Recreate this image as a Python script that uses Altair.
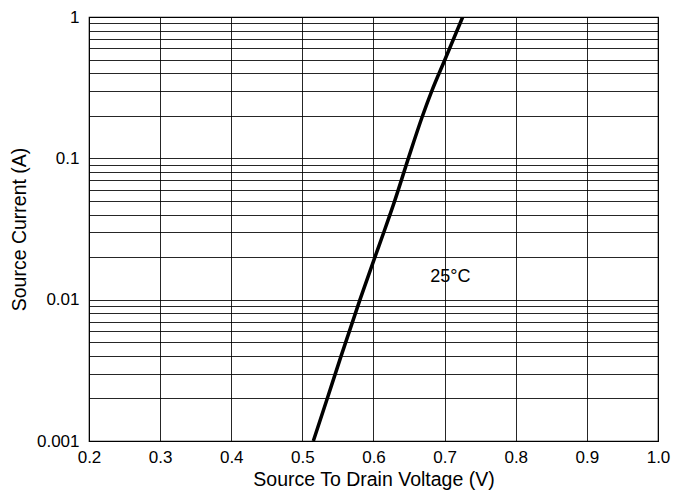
import altair as alt
import pandas as pd

# curve
voltage = [0.5154, 0.5350, 0.5545, 0.5810, 0.6020, 0.6145, 0.6298, 0.6490, 0.6690, 0.6820, 0.7005, 0.7254]
current = [0.001, 0.002, 0.004, 0.01, 0.02, 0.03, 0.05, 0.1, 0.2, 0.3, 0.5, 1.0]

x_ticks = [0.2, 0.3, 0.4, 0.5, 0.6, 0.7, 0.8, 0.9, 1.0]
y_grid = [m * d for d in [0.001, 0.01, 0.1] for m in range(1, 10)] + [1.0]

label_text = ["25°C"]
label_x = [0.708]
label_y = [0.0145]

df = pd.DataFrame({"v": voltage, "i": current})
lab = pd.DataFrame({"v": label_x, "i": label_y, "t": label_text})

FONT = "Liberation Sans"
xscale = alt.Scale(domain=[0.2, 1.0], nice=False, zero=False)
yscale = alt.Scale(type="log", domain=[0.001, 1], nice=False)

line = alt.Chart(df).mark_line(color="black", strokeWidth=3.5, interpolate="monotone", clip=True).encode(
    x=alt.X("v:Q", scale=xscale, title="Source To Drain Voltage (V)",
            axis=alt.Axis(values=x_ticks, format=".1f", grid=True, ticks=False,
                          domain=False, labelPadding=8, titlePadding=5,
                          labelFlush=False,
                          labelFontSize=17, titleFontSize=19.5,
                          labelFont=FONT, titleFont=FONT,
                          labelColor="black", titleColor="black",
                          titleFontWeight="normal",
                          gridColor="black", gridOpacity=0.85, gridWidth=1)),
    y=alt.Y("i:Q", scale=yscale, title="Source Current (A)",
            axis=alt.Axis(values=y_grid, grid=True, ticks=False, domain=False,
                          labelExpr="abs(log(datum.value)/LN10 - round(log(datum.value)/LN10)) < 1e-6 ? format(datum.value, '~g') : ''",
                          labelPadding=10, titlePadding=7, labelFlush=False,
                          labelFontSize=17, titleFontSize=19.5,
                          labelFont=FONT, titleFont=FONT,
                          labelColor="black", titleColor="black",
                          titleFontWeight="normal", labelOverlap=False,
                          gridColor="black", gridOpacity=0.85, gridWidth=1)),
)

text = alt.Chart(lab).mark_text(fontSize=18, font=FONT, color="black").encode(
    x=alt.X("v:Q", scale=xscale),
    y=alt.Y("i:Q", scale=yscale),
    text="t:N",
)

chart = (line + text).properties(
    width=569, height=424,
    autosize=alt.AutoSizeParams(type="none"),
    padding={"left": 81, "top": 9, "right": 20, "bottom": 56},
).configure_view(stroke="black", strokeWidth=1.2)

chart.save("out.html", embed_options={"renderer": "svg", "actions": False})
